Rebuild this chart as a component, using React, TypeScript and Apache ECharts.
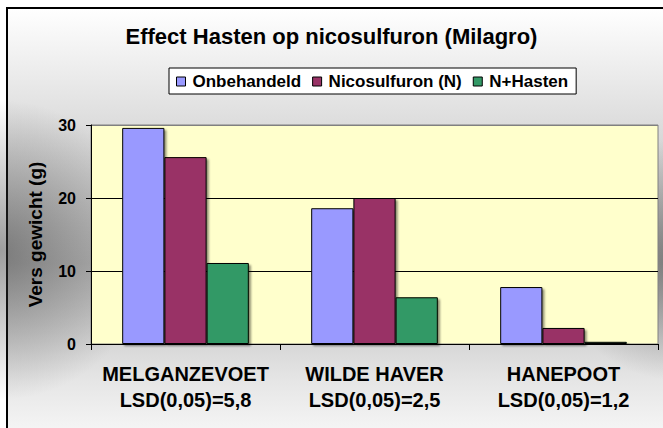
import React, { useEffect, useRef } from 'react';
import * as echarts from 'echarts';

const categories = [
  'MELGANZEVOET\nLSD(0,05)=5,8',
  'WILDE HAVER\nLSD(0,05)=2,5',
  'HANEPOOT\nLSD(0,05)=1,2',
];
const seriesNames = ['Onbehandeld', 'Nicosulfuron (N)', 'N+Hasten'];
const onbehandeld = [29.6, 18.6, 7.8];
const nicosulfuron = [25.6, 20.0, 2.2];
const nHasten = [11.1, 6.4, 0.3];
const yMin = 0;
const yMax = 30;
const yInterval = 10;
const colors = ['#9999FF', '#993366', '#339966'];

const FONT = "'Liberation Sans', Arial, sans-serif";

export default function App() {
  const ref = useRef<HTMLDivElement>(null);
  useEffect(() => {
    if (!ref.current) return;
    const chart = echarts.init(ref.current, undefined, { renderer: 'svg' });
    const values = [onbehandeld, nicosulfuron, nHasten];
    chart.setOption({
      animation: false,
      textStyle: { fontFamily: FONT },
      graphic: [
        {
          type: 'rect',
          z: -20,
          shape: { x: 7, y: 8, width: 670, height: 440 },
          style: {
            fill: new echarts.graphic.LinearGradient(0, 0, 0, 1, [
              { offset: 0, color: '#ffffff' },
              { offset: 0.3, color: '#d8d8d8' },
              { offset: 0.58, color: '#b8b8b8' },
              { offset: 0.85, color: '#e6e6e6' },
              { offset: 1, color: '#fafafa' },
            ]),
            stroke: '#000',
            lineWidth: 2,
          },
        },
        {
          type: 'circle',
          z: -19,
          shape: { cx: 0, cy: 250, r: 150 },
          style: {
            fill: new echarts.graphic.RadialGradient(0.5, 0.5, 0.5, [
              { offset: 0, color: 'rgba(60,60,60,0.5)' },
              { offset: 1, color: 'rgba(60,60,60,0)' },
            ]),
          },
        },
        {
          type: 'circle',
          z: -19,
          shape: { cx: 675, cy: 260, r: 120 },
          style: {
            fill: new echarts.graphic.RadialGradient(0.5, 0.5, 0.5, [
              { offset: 0, color: 'rgba(60,60,60,0.5)' },
              { offset: 1, color: 'rgba(60,60,60,0)' },
            ]),
          },
        },
      ],
      title: {
        text: 'Effect Hasten op nicosulfuron (Milagro)',
        left: 'center',
        top: 25,
        padding: [0, 0, 0, 14],
        textStyle: { fontFamily: FONT, fontWeight: 'bold', fontSize: 22, color: '#000' },
      },
      legend: {
        data: seriesNames,
        left: 169,
        top: 68,
        icon: 'rect',
        itemWidth: 9,
        itemHeight: 9,
        itemGap: 11,
        padding: [5, 8, 4, 7],
        borderColor: '#000',
        borderWidth: 1,
        backgroundColor: '#fff',
        itemStyle: { borderColor: '#000', borderWidth: 1, shadowBlur: 0, shadowOffsetX: 0, shadowOffsetY: 0, shadowColor: 'transparent' },
        textStyle: { fontFamily: FONT, fontWeight: 'bold', fontSize: 17, color: '#000', padding: [0, 0, 0, 2] },
      },
      grid: {
        left: 91,
        right: 5,
        top: 125,
        bottom: 84,
        show: true,
        backgroundColor: '#FFFFCC',
        borderColor: '#808080',
        borderWidth: 1,
      },
      xAxis: {
        type: 'category',
        data: categories,
        axisLine: { lineStyle: { color: '#000', width: 1 } },
        axisTick: { show: true, length: 6, lineStyle: { color: '#000' } },
        axisLabel: {
          interval: 0,
          hideOverlap: false,
          margin: 17,
          fontFamily: FONT,
          fontWeight: 'bold',
          fontSize: 20,
          lineHeight: 26,
          color: '#000',
        },
      },
      yAxis: {
        type: 'value',
        min: yMin,
        max: yMax,
        interval: yInterval,
        name: 'Vers gewicht (g)',
        nameLocation: 'middle',
        nameRotate: 90,
        nameGap: 46,
        nameTextStyle: { fontFamily: FONT, fontWeight: 'bold', fontSize: 19, color: '#000' },
        axisLine: { show: true, lineStyle: { color: '#000', width: 1 } },
        axisTick: { show: true, length: 5, lineStyle: { color: '#000' } },
        axisLabel: { margin: 15, fontFamily: FONT, fontWeight: 'bold', fontSize: 16, color: '#000' },
        splitLine: { show: true, lineStyle: { color: ['#000', '#000', '#000', '#808080'], width: 1 } },
      },
      series: seriesNames.map((name, i) => ({
        name,
        type: 'bar',
        data: values[i],
        barGap: '0%',
        barCategoryGap: '33%',
        itemStyle: {
          color: colors[i],
          borderColor: '#000',
          borderWidth: 1,
          shadowColor: 'rgba(0,0,0,0.45)',
          shadowOffsetX: 2,
          shadowOffsetY: 2,
          shadowBlur: 2,
        },
      })),
    });
    return () => chart.dispose();
  }, []);
  return (
    <div
      ref={ref}
      style={{ position: 'absolute', left: 0, top: 0, width: 663, height: 428 }}
    />
  );
}
